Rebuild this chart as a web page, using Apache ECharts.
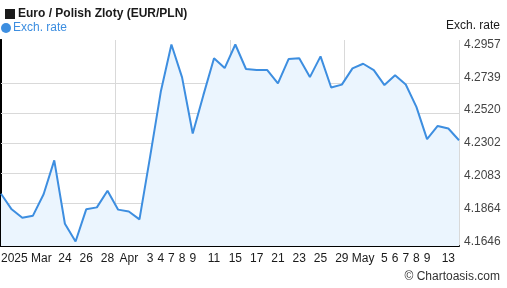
<!DOCTYPE html>
<html>
<head>
<meta charset="utf-8">
<script src="https://cdn.jsdelivr.net/npm/echarts@6/dist/echarts.min.js"></script>
<style>
html,body{margin:0;padding:0;background:#fff;}
#chart{width:507px;height:288px;}
</style>
</head>
<body>
<div id="chart"></div>
<script>
const dates = ['2025-03-14','2025-03-17','2025-03-18','2025-03-19','2025-03-20','2025-03-21','2025-03-24','2025-03-25','2025-03-26','2025-03-27','2025-03-28','2025-03-31','2025-04-01','2025-04-02','2025-04-03','2025-04-04','2025-04-07','2025-04-08','2025-04-09','2025-04-10','2025-04-11','2025-04-14','2025-04-15','2025-04-16','2025-04-17','2025-04-18','2025-04-21','2025-04-22','2025-04-23','2025-04-24','2025-04-25','2025-04-28','2025-04-29','2025-04-30','2025-05-01','2025-05-02','2025-05-05','2025-05-06','2025-05-07','2025-05-08','2025-05-09','2025-05-12','2025-05-13','2025-05-14'];
const xTickLabels = ['2025 Mar','','','','','','24','','26','','28','','Apr','','3','4','7','8','9','','11','','15','','17','','21','','23','','25','','29','','May','','5','6','7','8','9','','13',''];
const rates = [4.1964,4.1860,4.1804,4.1818,4.1960,4.2186,4.1764,4.1646,4.1860,4.1873,4.1984,4.1858,4.1846,4.1793,4.2211,4.2642,4.2957,4.2738,4.2365,4.2620,4.2865,4.2800,4.2957,4.2794,4.2787,4.2787,4.2698,4.2860,4.2865,4.2740,4.2878,4.2671,4.2690,4.2798,4.2829,4.2787,4.2687,4.2752,4.2691,4.2542,4.2327,4.2415,4.2398,4.2320];
const yTickValues = [4.1646,4.1864,4.2083,4.2302,4.2520,4.2739,4.2957];
const yGridValues = [4.1864,4.2083,4.2302,4.2520,4.2739];
const seriesName = 'Exch. rate';
const chartTitle = 'Euro / Polish Zloty (EUR/PLN)';
const credit = '\u00A9 Chartoasis.com';

const yMin = 4.1616, yMax = 4.2987;
const FONT = '"Liberation Sans", Arial, sans-serif';

const chart = echarts.init(document.getElementById('chart'), null, {renderer:'canvas'});
chart.setOption({
  animation: false,
  textStyle: {fontFamily: FONT},
  title: {
    left: 0, top: 3,
    text: '{box|}{t|' + chartTitle + '}',
    textStyle: {
      rich: {
        box: {width: 10, height: 10, backgroundColor: '#1a1a1a'},
        t: {fontFamily: FONT, fontSize: 12, fontWeight: 'bold', color: '#1a1a1a', padding: [0,0,0,3]}
      }
    }
  },
  legend: {
    left: -4, top: 17,
    data: [seriesName],
    icon: 'circle',
    itemWidth: 10, itemHeight: 10, itemGap: 2,
    textStyle: {color: '#3d8ee0', fontSize: 12, fontFamily: FONT, padding: [0,0,0,-3]}
  },
  grid: {left: 1, right: 48, top: 40, bottom: 42, containLabel: false, outerBoundsMode: 'none'},
  xAxis: [{
    type: 'category',
    data: dates,
    boundaryGap: false,
    axisLine: {show: true, lineStyle: {color: '#000', width: 2}},
    axisTick: {show: false},
    splitLine: {show: false},
    axisLabel: {
      interval: 0,
      margin: 7,
      color: '#1a1a1a',
      fontSize: 12,
      fontFamily: FONT,
      alignMinLabel: 'left',
      formatter: function (v, i) { return xTickLabels[i]; }
    }
  }, {
    type: 'value',
    min: 0, max: 4, interval: 1,
    position: 'top',
    show: true,
    axisLine: {show: false},
    axisTick: {show: false},
    axisLabel: {show: false},
    splitLine: {show: true, lineStyle: {color: '#d9d9d9', width: 1}}
  }],
  yAxis: [{
    type: 'value',
    position: 'right',
    min: yMin, max: yMax,
    axisLine: {show: true, lineStyle: {color: '#000', width: 2}},
    axisTick: {show: false},
    splitLine: {show: false},
    axisLabel: {
      customValues: yTickValues,
      margin: 5,
      color: '#444',
      fontSize: 12,
      fontFamily: FONT,
      formatter: function (v) { return v.toFixed(4); }
    }
  }, {
    type: 'value',
    position: 'left',
    min: yMin, max: yMax,
    axisLine: {show: true, lineStyle: {color: '#000', width: 2}},
    axisTick: {show: false},
    axisLabel: {show: false},
    splitLine: {show: false}
  }],
  series: [{
    name: seriesName,
    type: 'line',
    xAxisIndex: 0,
    yAxisIndex: 0,
    data: rates,
    symbol: 'none',
    lineStyle: {color: '#3d8ee0', width: 2},
    itemStyle: {color: '#3d8ee0'},
    areaStyle: {color: '#ebf5fe', opacity: 1, origin: 'start'},
    markLine: {
      silent: true,
      symbol: 'none',
      label: {show: false},
      lineStyle: {color: '#d9d9d9', width: 1, type: 'solid'},
      data: yGridValues.map(v => ({yAxis: v})),
      z: 1
    },
    z: 3
  }],
  graphic: [{
    type: 'text',
    right: 7, bottom: 5,
    style: {text: credit, fill: '#333', font: '12px ' + FONT}
  }, {
    type: 'text',
    right: 7, top: 20,
    style: {text: seriesName, fill: '#1a1a1a', font: '12px ' + FONT}
  }]
});
</script>
</body>
</html>
